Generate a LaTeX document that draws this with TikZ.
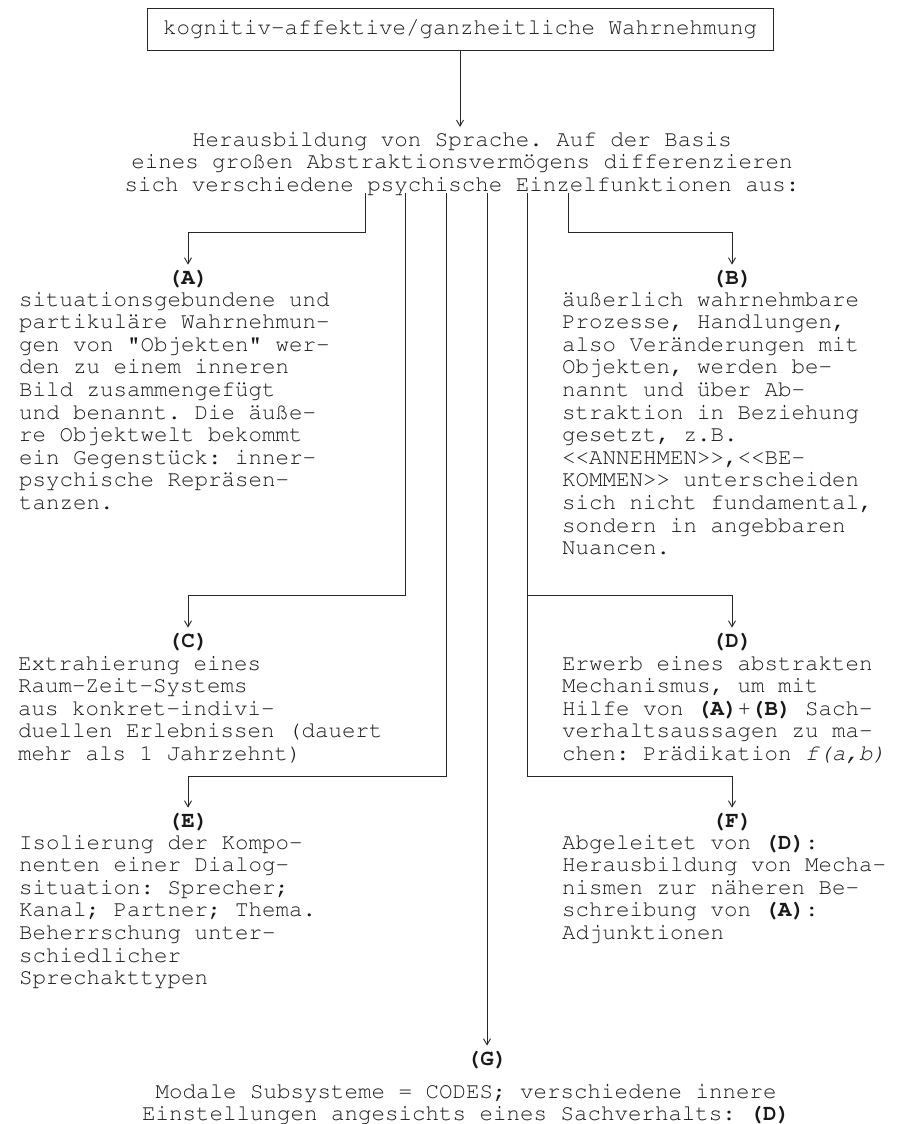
\documentclass[tikz,border=0pt]{standalone}
\usepackage[T1]{fontenc}
\usetikzlibrary{arrows.meta}
% Courier (pcr) for all text, single spaces after punctuation
\newcommand\dfont{\fontencoding{T1}\fontfamily{pcr}\fontsize{22.5}{22.6}\selectfont\frenchspacing}
\newcommand\tbox[1]{\parbox[t]{420pt}{\raggedright #1}}
\newcommand\cbox[1]{\parbox[t]{720pt}{\centering #1}}
\begin{document}
\begin{tikzpicture}[x=1pt,y=-1pt,
  line/.style={draw=black!85, line width=0.9pt},
  conn/.style={line, -{Straight Barb[length=6pt,width=7pt]}},
  txt/.style={font=\dfont, text=black!90, inner sep=0pt},
  tag/.style={txt, font=\dfont\bfseries, anchor=base},
  body/.style={txt, anchor=base west},
]
\useasboundingbox (0,0) rectangle (898,1124);

% top box and heading
\node[txt, line, minimum width=626pt, minimum height=42pt] (top) at (460,29)
  {kognitiv-affektive/ganzheitliche Wahrnehmung};
\node[txt, anchor=base] (head) at (462,146) {\cbox{%
  Herausbildung von Sprache. Auf der Basis\\
  eines gro\ss en Abstraktionsverm\"ogens differenzieren\\
  sich verschiedene psychische Einzelfunktionen aus:}};
\coordinate (headin) at ([yshift=4.5pt]head.north);

% branch origins below the heading
\coordinate (sA) at (365,193);
\coordinate (sC) at (405,193);
\coordinate (sE) at (446,193);
\coordinate (sG) at (487,193);
\coordinate (sD) at (527,193);
\coordinate (sB) at (568,193);

% labels
\node[tag] (lA) at (188,284) {(A)};
\node[tag] (lB) at (732,284) {(B)};
\node[tag] (lC) at (188,647) {(C)};
\node[tag] (lD) at (732,647) {(D)};
\node[tag] (lE) at (188,827) {(E)};
\node[tag] (lF) at (732,827) {(F)};
\node[tag] (lG) at (487,1065) {(G)};

% texts
\node[body] (tA) at (19,306) {\tbox{%
  situationsgebundene und\\
  partikul\"are Wahrnehmun-\\
  gen von "Objekten" wer-\\
  den zu einem inneren\\
  Bild zusammengef\"ugt\\
  und benannt. Die \"au\ss e-\\
  re Objektwelt bekommt\\
  ein Gegenst\"uck: inner-\\
  psychische Repr\"asen-\\
  tanzen.}};
\node[body] (tB) at (562,306) {\tbox{%
  \"au\ss erlich wahrnehmbare\\
  Prozesse, Handlungen,\\
  also Ver\"anderungen mit\\
  Objekten, werden be-\\
  nannt und \"uber Ab-\\
  straktion in Beziehung\\
  gesetzt, z.B.\\
  <{}<ANNEHMEN>{}>,<{}<BE-\\
  KOMMEN>{}> unterscheiden\\
  sich nicht fundamental,\\
  sondern in angebbaren\\
  Nuancen.}};
\node[body] (tC) at (18,670) {\tbox{%
  Extrahierung eines\\
  Raum-Zeit-Systems\\
  aus konkret-indivi-\\
  duellen Erlebnissen (dauert\\
  mehr als 1 Jahrzehnt)}};
\node[body] (tD) at (562,670) {\tbox{%
  Erwerb eines abstrakten\\
  Mechanismus, um mit\\
  Hilfe von \textbf{(A)}+\textbf{(B)} Sach-\\
  verhaltsaussagen zu ma-\\
  chen: Pr\"adikation \textit{f(a,b)}}};
\node[body] (tE) at (19,849) {\tbox{%
  Isolierung der Kompo-\\
  nenten einer Dialog-\\
  situation: Sprecher;\\
  Kanal; Partner; Thema.\\
  Beherrschung unter-\\
  schiedlicher\\
  Sprechakttypen}};
\node[body] (tF) at (562,849) {\tbox{%
  Abgeleitet von \textbf{(D)}:\\
  Herausbildung von Mecha-\\
  nismen zur n\"aheren Be-\\
  schreibung von \textbf{(A)}:\\
  Adjunktionen}};
\node[txt, anchor=base] (tG) at (466,1098) {\cbox{%
  Modale Subsysteme = CODES; verschiedene innere\\
  Einstellungen angesichts eines Sachverhalts: \textbf{(D)}}};

% connectors
\draw[conn] (top.south) -- (top.south |- headin);
\draw[conn] (sA) -- ++(0,39) -| ([yshift=5pt]lA.north);
\draw[conn] (sB) -- ++(0,39) -| ([yshift=5pt]lB.north);
\draw[conn] (sC) -- ++(0,402) -| ([yshift=5pt]lC.north);
\draw[conn] (sE) -- ++(0,583) -| ([yshift=5pt]lE.north);
\draw[conn] (sD) -- ++(0,583) -| ([yshift=5pt]lF.north);
\draw[conn] ([yshift=-402pt]sD) -| ([yshift=5pt]lD.north);
\draw[conn] (sG) -- ([yshift=5pt]lG.north);
\end{tikzpicture}
\end{document}
